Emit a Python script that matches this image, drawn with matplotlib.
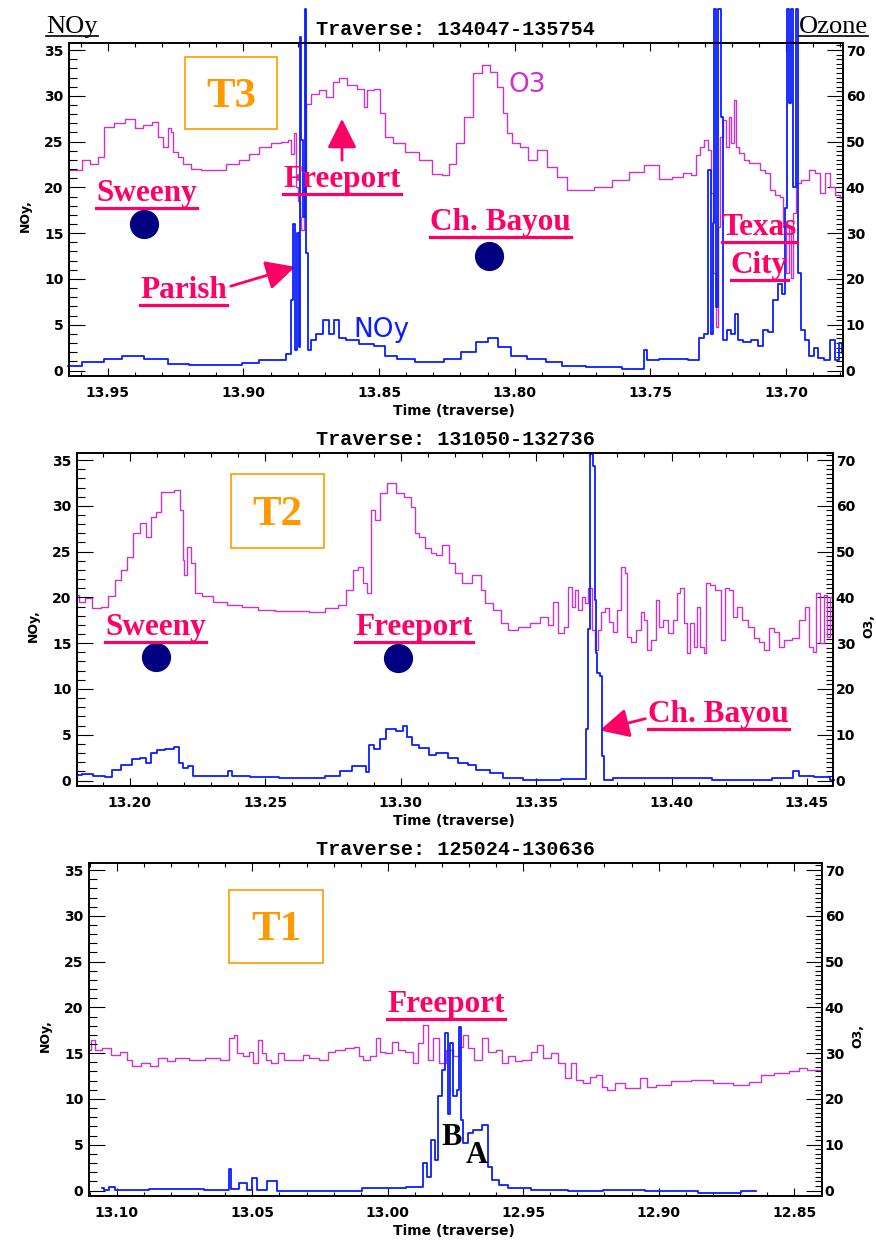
import matplotlib
matplotlib.use("Agg")
import matplotlib.pyplot as plt
from matplotlib.ticker import MultipleLocator, FormatStrFormatter
from matplotlib.patches import Rectangle, FancyArrowPatch
from matplotlib.lines import Line2D

# ---- T3 traverse (134047-135754), time axis reversed ----
t3_o3_time = [13.9645, 13.9604, 13.9586, 13.9543, 13.9531, 13.9494, 13.9457, 13.9414, 13.9384, 13.9353,
              13.9322, 13.9310, 13.9286, 13.9273, 13.9261, 13.9255, 13.9230, 13.9212, 13.9175, 13.9138,
              13.9089, 13.9040, 13.8991, 13.8967, 13.8918, 13.8881, 13.8844, 13.8826, 13.8820, 13.8810,
              13.8801, 13.8795, 13.8789, 13.8783, 13.8773, 13.8765, 13.8734, 13.8710, 13.8679, 13.8661,
              13.8636, 13.8599, 13.8562, 13.8550, 13.8538, 13.8501, 13.8489, 13.8471, 13.8428, 13.8379,
              13.8330, 13.8281, 13.8254, 13.8230, 13.8205, 13.8168, 13.8138, 13.8107, 13.8076, 13.8052,
              13.8033, 13.8021, 13.7996, 13.7966, 13.7935, 13.7898, 13.7867, 13.7824, 13.7788, 13.7738,
              13.7677, 13.7603, 13.7554, 13.7493, 13.7444, 13.7393, 13.7367, 13.7337, 13.7326, 13.7311,
              13.7293, 13.7282, 13.7274, 13.7263, 13.7256, 13.7248, 13.7237, 13.7226, 13.7215, 13.7208,
              13.7197, 13.7189, 13.7182, 13.7163, 13.7145, 13.7126, 13.7104, 13.7085, 13.7067, 13.7048,
              13.7030, 13.7015, 13.7004, 13.6996, 13.6985, 13.6978, 13.6967, 13.6956, 13.6930, 13.6904,
              13.6886, 13.6867, 13.6849, 13.6830, 13.6812, 13.6790]
t3_o3 = [43.8, 43.8, 46.0, 45.0, 46.7, 53.2, 54.0, 55.0, 52.9, 53.6,
         54.3, 51.0, 48.9, 52.9, 52.0, 47.8, 46.7, 45.2, 44.1, 43.8,
         43.8, 45.2, 46.0, 47.4, 48.9, 49.6, 50.0, 50.3, 47.4, 51.8,
         40.0, 37.0, 33.5, 30.6, 40.8, 58.3, 60.5, 61.3, 59.8, 63.0,
         64.0, 62.4, 61.6, 57.6, 61.3, 61.6, 56.2, 51.0, 49.6, 47.8,
         46.0, 43.0, 42.7, 45.2, 49.6, 55.4, 64.9, 66.7, 65.3, 62.0,
         56.2, 51.8, 49.6, 48.9, 46.0, 48.1, 44.5, 42.3, 39.4, 39.4,
         40.1, 41.6, 43.4, 44.9, 41.9, 42.2, 43.1, 42.7, 47.0, 48.8,
         50.3, 48.1, 38.7, 21.2, 9.4, 31.3, 51.0, 54.7, 48.8, 55.3,
         49.7, 59.1, 48.8, 47.5, 45.9, 45.3, 45.3, 43.8, 43.1, 39.4,
         38.3, 37.8, 31.3, 21.2, 31.3, 20.3, 34.3, 40.9, 41.6, 43.8,
         43.1, 38.7, 43.1, 40.0, 38.3, 37.6]
t3_noy_time = [13.9645, 13.9543, 13.9482, 13.9414, 13.9322, 13.9237, 13.9163, 13.9040, 13.8967, 13.8918,
               13.8857, 13.8832, 13.8820, 13.8814, 13.8808, 13.8799, 13.8795, 13.8789, 13.8783, 13.8777,
               13.8771, 13.8765, 13.8759, 13.8746, 13.8722, 13.8691, 13.8679, 13.8654, 13.8642, 13.8599,
               13.8550, 13.8489, 13.8464, 13.8403, 13.8330, 13.8291, 13.8230, 13.8168, 13.8119, 13.8076,
               13.8045, 13.7984, 13.7923, 13.7849, 13.7800, 13.7677, 13.7530, 13.7520, 13.7505, 13.7431,
               13.7393, 13.7330, 13.7311, 13.7293, 13.7282, 13.7274, 13.7267, 13.7263, 13.7256, 13.7245,
               13.7237, 13.7226, 13.7208, 13.7197, 13.7182, 13.7171, 13.7145, 13.7111, 13.7093, 13.7074,
               13.7056, 13.7037, 13.7022, 13.7011, 13.7000, 13.6993, 13.6985, 13.6978, 13.6967, 13.6960,
               13.6952, 13.6937, 13.6923, 13.6904, 13.6893, 13.6874, 13.6849, 13.6827, 13.6812, 13.6797,
               13.6790]
t3_noy = [0.44, 0.9, 1.3, 1.6, 1.3, 0.7, 0.65, 0.65, 0.8, 1.1,
          1.1, 1.8, 7.7, 16.0, 2.2, 15.0, 2.6, 36.4, 25.2, 16.8,
          39.5, 12.8, 2.2, 3.3, 4.0, 5.5, 4.0, 5.5, 3.6, 3.3,
          2.9, 2.7, 1.6, 1.3, 0.9, 0.9, 1.3, 2.0, 3.1, 3.5,
          2.6, 1.6, 1.3, 0.9, 0.44, 0.36, 0.2, 2.2, 1.1, 1.3,
          1.3, 1.1, 3.6, 4.0, 21.9, 4.0, 16.1, 39.5, 6.9, 39.5,
          27.7, 3.3, 4.4, 4.0, 6.2, 3.3, 3.1, 3.3, 2.7, 4.4,
          4.2, 7.7, 9.5, 8.4, 17.8, 39.5, 29.2, 39.5, 20.0, 39.5,
          10.6, 4.4, 3.3, 1.6, 2.5, 1.4, 1.1, 3.3, 1.1, 3.0,
          1.9]

# ---- T2 traverse (131050-132736) ----
t2_o3_time = [13.1805, 13.1821, 13.1846, 13.1877, 13.1907, 13.1932, 13.1957, 13.1981, 13.2000, 13.2025,
              13.2049, 13.2068, 13.2086, 13.2105, 13.2123, 13.2148, 13.2179, 13.2191, 13.2198, 13.2204,
              13.2216, 13.2235, 13.2247, 13.2284, 13.2333, 13.2383, 13.2444, 13.2506, 13.2568, 13.2630,
              13.2691, 13.2753, 13.2784, 13.2815, 13.2833, 13.2852, 13.2870, 13.2883, 13.2895, 13.2914,
              13.2932, 13.2969, 13.3000, 13.3025, 13.3049, 13.3056, 13.3080, 13.3099, 13.3123, 13.3139,
              13.3169, 13.3188, 13.3212, 13.3243, 13.3286, 13.3304, 13.3322, 13.3359, 13.3384, 13.3408,
              13.3457, 13.3500, 13.3531, 13.3555, 13.3567, 13.3595, 13.3613, 13.3624, 13.3639, 13.3650,
              13.3661, 13.3675, 13.3686, 13.3697, 13.3712, 13.3723, 13.3734, 13.3748, 13.3759, 13.3777,
              13.3788, 13.3807, 13.3821, 13.3832, 13.3839, 13.3858, 13.3880, 13.3894, 13.3905, 13.3916,
              13.3934, 13.3949, 13.3960, 13.3978, 13.3996, 13.4015, 13.4026, 13.4040, 13.4051, 13.4062,
              13.4077, 13.4088, 13.4099, 13.4113, 13.4124, 13.4131, 13.4150, 13.4172, 13.4190, 13.4204,
              13.4223, 13.4234, 13.4252, 13.4270, 13.4296, 13.4314, 13.4332, 13.4350, 13.4369, 13.4387,
              13.4405, 13.4427, 13.4460, 13.4482, 13.4500, 13.4515, 13.4526, 13.4544, 13.4555, 13.4570,
              13.4580, 13.4592]
t2_o3 = [40.6, 39.1, 39.8, 37.6, 38.0, 40.2, 43.8, 46.0, 48.9, 54.0,
         56.2, 53.3, 57.6, 58.7, 63.1, 63.1, 63.4, 59.1, 48.2, 44.9,
         51.1, 47.5, 40.9, 40.2, 39.1, 38.4, 37.9, 37.3, 37.1, 37.1,
         36.9, 37.6, 38.4, 41.6, 46.0, 46.7, 43.1, 40.9, 59.1, 56.9,
         62.7, 64.9, 62.7, 62.0, 59.8, 54.0, 53.3, 50.7, 49.6, 49.3,
         51.5, 47.5, 45.3, 43.1, 44.9, 41.6, 38.7, 37.3, 34.4, 32.9,
         33.6, 34.4, 35.8, 34.0, 39.1, 32.3, 33.6, 42.3, 37.9, 41.6,
         37.3, 40.1, 38.8, 42.1, 32.9, 28.6, 32.9, 36.9, 37.7, 34.7,
         32.5, 37.3, 46.7, 45.3, 31.4, 30.3, 32.9, 36.9, 35.1, 28.6,
         30.7, 39.5, 33.6, 35.1, 32.3, 35.1, 41.0, 42.1, 34.5, 27.9,
         34.5, 29.2, 37.9, 29.2, 27.9, 43.2, 42.7, 41.6, 30.7, 42.1,
         41.6, 35.8, 37.9, 35.1, 33.6, 31.2, 30.3, 28.6, 33.4, 32.5,
         29.2, 30.7, 31.2, 35.1, 37.9, 29.2, 28.1, 41.0, 30.1, 40.6,
         31.4, 40.1]
t2_noy_time = [13.1805, 13.1840, 13.1889, 13.1926, 13.1944, 13.1988, 13.2025, 13.2049, 13.2068, 13.2086,
               13.2111, 13.2148, 13.2179, 13.2185, 13.2204, 13.2222, 13.2247, 13.2358, 13.2368, 13.2383,
               13.2506, 13.2593, 13.2691, 13.2753, 13.2802, 13.2840, 13.2864, 13.2877, 13.2889, 13.2914,
               13.2932, 13.2963, 13.3000, 13.3016, 13.3031, 13.3049, 13.3086, 13.3123, 13.3139, 13.3163,
               13.3188, 13.3237, 13.3261, 13.3298, 13.3359, 13.3396, 13.3506, 13.3678, 13.3690, 13.3696,
               13.3705, 13.3714, 13.3720, 13.3724, 13.3729, 13.3739, 13.3745, 13.3757, 13.3812, 13.3996,
               13.4302, 13.4437, 13.4462, 13.4480, 13.4572, 13.4599]
t2_noy = [0.65, 0.76, 0.47, 0.4, 1.2, 1.7, 2.3, 2.5, 1.9, 3.0,
          3.3, 3.4, 3.7, 1.9, 1.4, 1.6, 0.47, 0.47, 1.0, 0.47,
          0.4, 0.3, 0.3, 0.47, 1.0, 1.6, 1.6, 0.9, 3.9, 3.4,
          4.5, 5.6, 5.4, 5.9, 4.8, 3.9, 3.6, 2.8, 3.0, 3.0,
          2.5, 1.9, 1.7, 1.2, 0.84, 0.3, 0.1, 0.2, 5.6, 16.5,
          35.7, 34.3, 19.7, 13.9, 11.7, 11.4, 2.7, 0.1, 0.3, 0.3,
          0.1, 0.3, 1.0, 0.47, 0.4, 0.1]

# ---- T1 traverse (125024-130636), time axis reversed ----
t1_o3_time = [13.1101, 13.1089, 13.1074, 13.1037, 13.1006, 13.0969, 13.0957, 13.0932, 13.0889, 13.0865,
              13.0828, 13.0803, 13.0766, 13.0705, 13.0643, 13.0594, 13.0576, 13.0560, 13.0551, 13.0520,
              13.0502, 13.0490, 13.0471, 13.0459, 13.0440, 13.0422, 13.0391, 13.0373, 13.0324, 13.0305,
              13.0274, 13.0231, 13.0213, 13.0176, 13.0139, 13.0114, 13.0102, 13.0078, 13.0053, 13.0034,
              13.0022, 12.9998, 12.9973, 12.9955, 12.9918, 12.9893, 12.9881, 12.9862, 12.9844, 12.9825,
              12.9794, 12.9776, 12.9745, 12.9727, 12.9715, 12.9696, 12.9666, 12.9641, 12.9617, 12.9586,
              12.9567, 12.9543, 12.9518, 12.9488, 12.9457, 12.9439, 12.9414, 12.9383, 12.9359, 12.9334,
              12.9316, 12.9291, 12.9267, 12.9242, 12.9218, 12.9199, 12.9181, 12.9144, 12.9107, 12.9083,
              12.9052, 12.9034, 12.8985, 12.8923, 12.8837, 12.8764, 12.8690, 12.8641, 12.8604, 12.8543,
              12.8494, 12.8469, 12.8433, 12.8398]
t1_o3 = [30.7, 32.9, 30.7, 31.1, 29.6, 30.3, 28.5, 27.1, 27.8, 27.1,
         28.9, 28.2, 28.9, 28.5, 28.9, 28.5, 33.3, 34.0, 30.0, 29.3,
         30.3, 27.8, 32.9, 30.0, 28.5, 27.8, 30.1, 28.5, 28.5, 29.6,
         28.9, 28.5, 30.3, 30.7, 31.1, 31.4, 29.3, 28.5, 29.3, 33.3,
         30.3, 30.0, 32.5, 30.7, 30.3, 27.8, 32.2, 36.2, 28.5, 33.3,
         27.8, 30.7, 29.3, 31.4, 34.0, 31.1, 28.5, 33.3, 30.3, 30.7,
         27.8, 29.3, 28.2, 28.5, 30.3, 31.8, 28.9, 30.0, 27.8, 24.5,
         27.8, 24.2, 23.4, 24.9, 25.3, 22.7, 22.0, 23.4, 22.3, 22.3,
         24.5, 22.7, 23.1, 24.0, 24.2, 23.4, 23.1, 23.8, 25.3, 25.6,
         26.0, 26.7, 26.3, 26.3]
t1_noy_time = [13.1055, 13.1043, 13.1012, 13.1000, 13.0766, 13.0594, 13.0582, 13.0572, 13.0526, 13.0514,
               13.0490, 13.0477, 13.0416, 13.0403, 13.0201, 12.9991, 12.9875, 12.9862, 12.9850, 12.9831,
               12.9819, 12.9807, 12.9794, 12.9782, 12.9776, 12.9767, 12.9752, 12.9739, 12.9733, 12.9727,
               12.9715, 12.9696, 12.9672, 12.9635, 12.9623, 12.9604, 12.9574, 12.9537, 12.9402, 12.9267,
               12.9144, 12.8960, 12.8752, 12.8641]
t1_noy = [0.25, 0.07, 0.36, 0.07, 0.15, 0.07, 2.3, 0.15, 0.8, 0.07,
          1.35, 0.07, 1.0, -0.1, 0.0, 0.25, 0.36, 3.0, 1.5, 5.5,
          3.3, 10.3, 13.2, 17.2, 8.4, 16.1, 10.3, 11.0, 17.9, 7.7,
          5.2, 6.3, 6.6, 7.2, 2.6, 1.2, 0.6, 0.25, 0.07, -0.1,
          0.07, 0.0, -0.3, -0.1]

W, H = 876, 1245
PINK = '#FF0066'
ORANGE = '#FF9900'
NAVY = '#000080'
MAGENTA = '#CC33CC'
BLUE = '#0A1EFF'


def P(x, y):
    # image pixel (top-left origin) -> figure fraction
    return x / W, 1 - y / H


fig = plt.figure(figsize=(W / 100, H / 100), dpi=100)
plt.rcParams['font.family'] = 'DejaVu Sans'

panels = [
    # left, top, right, bottom (pixels), xlim, title, series
    (69, 43, 843, 376, (13.9643, 13.679), 'Traverse: 134047-135754',
     t3_o3_time, t3_o3, t3_noy_time, t3_noy),
    (77, 453, 833, 786, (13.1805, 13.4596), 'Traverse: 131050-132736',
     t2_o3_time, t2_o3, t2_noy_time, t2_noy),
    (89, 863, 822, 1196, (13.1103, 12.8397), 'Traverse: 125024-130636',
     t1_o3_time, t1_o3, t1_noy_time, t1_noy),
]

for i, (l, t, r, b, xlim, title, ot, ov, nt, nv) in enumerate(panels):
    ax = fig.add_axes([l / W, 1 - b / H, (r - l) / W, (b - t) / H])
    ax2 = ax.twinx()
    ax2.plot(ot, ov, color=MAGENTA, lw=1.0, drawstyle='steps-mid')
    ax.plot(nt, nv, color=BLUE, lw=1.3, clip_on=False, drawstyle='steps-mid')
    ax.set_zorder(ax2.get_zorder() + 1)
    ax.patch.set_visible(False)

    ax.set_xlim(*xlim)
    ax.set_ylim(-0.6, 35.77)
    ax2.set_ylim(-1.2, 71.54)
    ax.xaxis.set_major_locator(MultipleLocator(0.05))
    ax.xaxis.set_minor_locator(MultipleLocator(0.01))
    ax.xaxis.set_major_formatter(FormatStrFormatter('%.2f'))
    ax.yaxis.set_major_locator(MultipleLocator(5))
    ax.yaxis.set_minor_locator(MultipleLocator(1))
    ax2.yaxis.set_major_locator(MultipleLocator(10))
    ax2.yaxis.set_minor_locator(MultipleLocator(1))

    ax.tick_params(axis='x', which='both', direction='in', top=True, width=0.8,
                   labelsize=10, pad=7)
    ax.tick_params(axis='x', which='major', length=5.5)
    ax.tick_params(axis='x', which='minor', length=3)
    ax.tick_params(axis='y', which='both', direction='in', width=0.8, labelsize=10, pad=4)
    ax.tick_params(axis='y', which='major', length=11.5)
    ax.tick_params(axis='y', which='minor', length=5.5)
    ax2.tick_params(axis='y', which='both', direction='in', width=0.8, labelsize=10, pad=2)
    ax2.tick_params(axis='y', which='major', length=11.5)
    ax2.tick_params(axis='y', which='minor', length=5)
    for a in (ax, ax2):
        for lab in a.get_xticklabels() + a.get_yticklabels():
            lab.set_fontweight('bold')
        for s in a.spines.values():
            s.set_linewidth(1.2)

    fig.text(*P(455, t - 8), title, family='Liberation Mono', fontsize=14.5,
             fontweight='bold', ha='center', va='baseline')
    fig.text(*P(454, b + 35), 'Time (traverse)', fontsize=10,
             fontweight='bold', ha='center', va='center')
    fig.text(*P(l - 44, (t + b) / 2 + 6), 'NOy,', fontsize=9,
             fontweight='bold', rotation=90, ha='center', va='center')
    if i > 0:
        fig.text(*P(r + 36, (t + b) / 2 + 6), 'O3,', fontsize=9,
                 fontweight='bold', rotation=90, ha='center', va='center')

# ---- text labels, underlined like the slide ----
under = []


def txt(x, y, s, color=PINK, size=22.5, weight='bold', gap=6.5, lw=2.3, line=True):
    tt = fig.text(*P(x, y), s, color=color, fontsize=size, fontweight=weight,
                  family='Liberation Serif', ha='left', va='baseline')
    if line:
        under.append((tt, y + gap, color, lw))
    return tt


txt(46, 33, 'NOy', color='black', size=19, weight='normal', gap=3, lw=1.2)
txt(799, 33, 'Ozone', color='black', size=19, weight='normal', gap=3, lw=1.2)

# panel tags
for (x0, y0, x1, y1, s, bl) in [(185, 57, 277, 129, 'T3', 107),
                                (231, 474, 324, 548, 'T2', 525),
                                (229, 890, 323, 963, 'T1', 940)]:
    fig.add_artist(Rectangle(P(x0, y1), (x1 - x0) / W, (y1 - y0) / H,
                             transform=fig.transFigure, fill=False, ec=ORANGE, lw=1.2))
    fig.text(*P((x0 + x1) / 2, bl), s, color=ORANGE, fontsize=31, fontweight='bold',
             family='Liberation Serif', ha='center', va='baseline')

# site labels
txt(96, 201, 'Sweeny')
txt(283, 187, 'Freeport')
txt(140, 298, 'Parish')
txt(430, 230, 'Ch. Bayou')
txt(722, 235, 'Texas')
txt(731, 273, 'City')
txt(105, 635, 'Sweeny')
txt(355, 635, 'Freeport')
txt(648, 722, 'Ch. Bayou')
txt(387, 1012, 'Freeport')
txt(441, 1145, 'B', color='black', size=22, line=False)
txt(466, 1163, 'A', color='black', size=22, line=False)

# in-plot series labels
fig.text(*P(508, 92), 'O3', color=MAGENTA, fontsize=19, ha='left', va='baseline')
fig.text(*P(353, 337), 'NOy', color=BLUE, fontsize=19, ha='left', va='baseline')

# site markers
for (x, y) in [(144, 224), (489, 256), (156, 657), (398, 658)]:
    fig.add_artist(Line2D([x / W], [1 - y / H], marker='o', markersize=20,
                          color=NAVY, transform=fig.transFigure))

# arrows
for (a, b) in [((342, 163), (342, 116)), ((228, 287), (298, 266)), ((648, 718), (597, 731))]:
    fig.add_artist(FancyArrowPatch(P(*a), P(*b), transform=fig.transFigure,
                                   arrowstyle='-|>,head_length=0.9,head_width=0.45',
                                   mutation_scale=20, color=PINK, lw=2))

fig.canvas.draw()
rend = fig.canvas.get_renderer()
for tt, yl, col, lw in under:
    bb = tt.get_window_extent(rend)
    fig.add_artist(Line2D([bb.x0 / W, bb.x1 / W], [1 - yl / H] * 2, color=col, lw=lw,
                          transform=fig.transFigure))

fig.savefig('out.png', dpi=100)
